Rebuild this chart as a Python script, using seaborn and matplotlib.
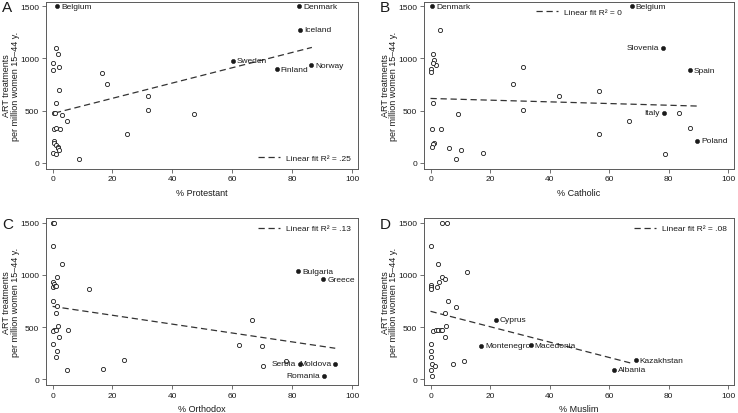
import matplotlib
matplotlib.use("Agg")
import matplotlib.pyplot as plt
import seaborn as sns

# Panel A - Protestant
a_open_x = [1.3, 1.9, 0.2, 2.0, 0.2, 2.0, 1.3, 0.4, 0.8, 3.0, 4.7, 0.6, 1.3, 2.5, 0.4,
            0.4, 1.3, 1.7, 1.9, 2.1, 0.2, 1.2, 8.9, 16.5, 18.1, 31.9, 31.9, 24.9, 47.2]
a_open_y = [1100, 1040, 960, 916, 887, 695, 568, 477, 477, 461, 398, 325, 335, 325, 212,
            186, 174, 155, 142, 126, 95, 85, 32, 859, 758, 635, 508, 275, 470]
a_names = ["Belgium", "Denmark", "Iceland", "Sweden", "Finland", "Norway"]
a_named_x = [1.6, 82.4, 82.7, 60.1, 74.8, 86.3]
a_named_y = [1500, 1500, 1276, 976, 894, 932]
a_label_side = ["r", "r", "r", "r", "r", "r"]
a_fit_x = [0.8, 86.6]
a_fit_y = [477, 1105]

# Panel B - Catholic
b_open_x = [3.1, 0.9, 1.3, 1.7, 0.9, 0.0, 0.2, 0.8, 0.5, 3.5, 1.1, 0.8, 0.4, 6.1, 10.4,
            17.5, 8.7, 9.2, 31.1, 27.8, 31.2, 43.1, 56.5, 56.6, 66.7, 83.6, 87.3, 78.9]
b_open_y = [1276, 1039, 982, 932, 960, 900, 865, 568, 325, 325, 186, 177, 152, 145, 126,
            95, 32, 470, 916, 758, 508, 635, 690, 275, 398, 477, 335, 85]
b_names = ["Denmark", "Belgium", "Slovenia", "Spain", "Italy", "Poland"]
b_named_x = [0.6, 67.6, 78.1, 87.2, 78.4, 89.7]
b_named_y = [1500, 1500, 1102, 887, 477, 212]
b_label_side = ["r", "r", "l", "r", "l", "r"]
b_fit_x = [0.0, 90.0]
b_fit_y = [616, 543]

# Panel C - Orthodox
c_open_x = [0.2, 0.5, 0.0, 3.3, 1.5, 0.0, 0.5, 0.0, 0.9, 1.3, 0.0, 1.5, 1.3, 1.7, 0.5,
            0.2, 1.0, 5.1, 2.0, 0.0, 1.5, 1.3, 4.9, 12.2, 16.9, 23.8, 62.4, 66.7, 69.8, 70.2, 78.0]
c_open_y = [1497, 1497, 1277, 1103, 976, 928, 915, 880, 894, 890, 752, 698, 635, 508, 470,
            460, 475, 470, 401, 338, 275, 212, 88, 862, 95, 180, 328, 572, 319, 123, 177]
c_names = ["Bulgaria", "Greece", "Serbia", "Moldova", "Romania"]
c_named_x = [82.0, 90.4, 82.7, 94.4, 90.6]
c_named_y = [1033, 960, 148, 148, 32]
c_label_side = ["r", "r", "l", "l", "l"]
c_fit_x = [0.0, 94.4]
c_fit_y = [698, 297]

# Panel D - Muslim
d_open_x = [3.9, 5.5, 0.1, 2.4, 12.3, 4.0, 4.8, 2.8, 0.0, 0.3, 2.2, 0.1, 5.9, 8.5, 4.9,
            5.2, 0.8, 1.7, 2.5, 3.4, 4.0, 5.0, 0.3, 0.0, 0.0, 0.4, 1.5, 7.5, 11.4, 0.1, 0.4]
d_open_y = [1497, 1497, 1276, 1102, 1030, 982, 960, 932, 900, 880, 881, 862, 752, 695, 632,
            508, 461, 470, 475, 475, 470, 401, 338, 275, 212, 148, 123, 148, 177, 88, 32]
d_names = ["Cyprus", "Montenegro", "Macedonia", "Kazakhstan", "Albania"]
d_named_x = [21.9, 17.1, 33.6, 68.9, 61.5]
d_named_y = [568, 319, 328, 180, 92]
d_label_side = ["r", "r", "r", "r", "r"]
d_fit_x = [0.0, 68.3]
d_fit_y = [651, 148]

sns.set_style("ticks")
plt.rcParams['font.family'] = ['Liberation Sans', 'DejaVu Sans']

fig = plt.figure(figsize=(7.38, 4.14), dpi=100)

W, H = 738.0, 414.0
panels = [
    # letter, xlabel, rect in pixels (left, top, right, bottom), data, legend text, legend loc
    ("A", "% Protestant", (46, 2.5, 358, 169.5), a_open_x, a_open_y, a_names, a_named_x, a_named_y,
     a_label_side, a_fit_x, a_fit_y, "Linear fit R\u00b2 = .25", "lower right"),
    ("B", "% Catholic", (424, 2.5, 734, 169.5), b_open_x, b_open_y, b_names, b_named_x, b_named_y,
     b_label_side, b_fit_x, b_fit_y, "Linear fit R\u00b2 = 0", "upper center"),
    ("C", "% Orthodox", (46, 219, 358, 386), c_open_x, c_open_y, c_names, c_named_x, c_named_y,
     c_label_side, c_fit_x, c_fit_y, "Linear fit R\u00b2 = .13", "upper right"),
    ("D", "% Muslim", (424, 219, 734, 386), d_open_x, d_open_y, d_names, d_named_x, d_named_y,
     d_label_side, d_fit_x, d_fit_y, "Linear fit R\u00b2 = .08", "upper right"),
]

ink = "#1a1a1a"
frame = "#5a5a5a"

for (letter, xlabel, rect, ox, oy, names, nx, ny, sides, fx, fy, fit_label, loc) in panels:
    l, t, r, b = rect
    ax = fig.add_axes([l / W, 1 - b / H, (r - l) / W, (b - t) / H])

    # fitted line
    sns.lineplot(x=fx, y=fy, ax=ax, color="#333333", linewidth=0.9,
                 linestyle=(0, (5, 3)), label=fit_label)
    # unlabelled countries
    sns.scatterplot(x=ox, y=oy, ax=ax, marker="o", s=9, facecolor="white",
                    edgecolor=ink, linewidth=0.6, zorder=3)
    # labelled countries
    sns.scatterplot(x=nx, y=ny, ax=ax, marker="o", s=9, color=ink,
                    edgecolor=ink, linewidth=0.4, zorder=4)
    for name, x, y, side in zip(names, nx, ny, sides):
        if side == "r":
            ax.annotate(name, (x, y), xytext=(3, 0), textcoords="offset points",
                        ha="left", va="center", fontsize=6, color=ink)
        else:
            ax.annotate(name, (x, y), xytext=(-3, 0), textcoords="offset points",
                        ha="right", va="center", fontsize=6, color=ink)

    ax.set_xlim(-2.2, 102.0)
    ax.set_ylim(-55, 1545)
    ax.set_xticks([0, 20, 40, 60, 80, 100])
    ax.set_yticks([0, 500, 1000, 1500])
    ax.tick_params(labelsize=6, length=3, width=0.6, color=frame, labelcolor=ink, pad=2)
    for sp in ax.spines.values():
        sp.set_color(frame)
        sp.set_linewidth(0.7)
    ax.set_xlabel(xlabel, fontsize=6.5, color=ink, labelpad=4)
    ax.set_ylabel("ART treatments\nper million women 15\u201344 y.", fontsize=6.5,
                  color=ink, linespacing=1.0)
    ax.yaxis.set_label_coords(-25.5 / (r - l), 0.5)

    leg = ax.legend(loc=loc, frameon=False, fontsize=6, handlelength=2.6,
                    handletextpad=0.8, borderaxespad=0.4)
    for txt in leg.get_texts():
        txt.set_color(ink)

    fig.text((l - 44) / W, 1 - (t - 1) / H if t > 5 else 0.998, letter, fontsize=11,
             color=ink, ha="left", va="top")

fig.savefig("out.png", dpi=100)
